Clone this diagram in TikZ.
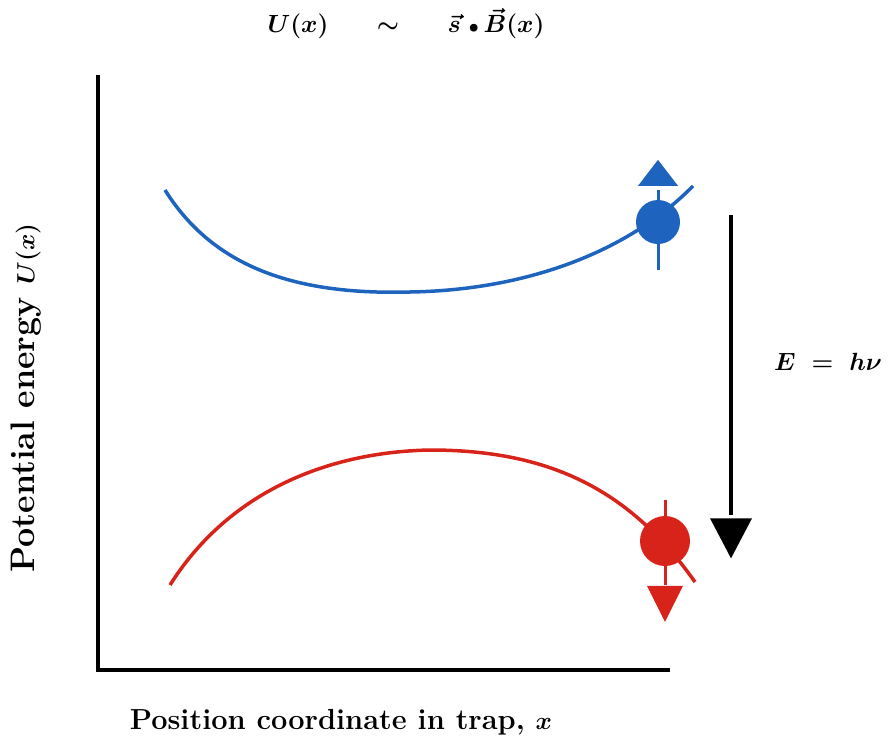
\documentclass[tikz,border=0pt]{standalone}
\usepackage{amsmath}
\usetikzlibrary{shapes.geometric}
\definecolor{cblue}{RGB}{30,100,190}
\definecolor{cred}{RGB}{215,35,25}
\begin{document}
\begin{tikzpicture}[x=1pt,y=-1pt,
  axis/.style={line width=4.5pt,line cap=rect},
  curve/.style={line width=3.5pt},
  tri/.style={isosceles triangle,isosceles triangle stretches,inner sep=0pt},
  lbl/.style={inner sep=0pt,font=\fontsize{29}{34}\selectfont\bfseries}]
\useasboundingbox (0,0) rectangle (888,755);
% axes
\coordinate (O) at (98,670);
\coordinate (ytop) at (98,77);
\coordinate (xend) at (668,670);
\draw[axis] (ytop) -- (O) -- (xend);
% blue curve
\coordinate (b0) at (165,190);
\coordinate (b1) at (693,186);
\draw[curve,cblue] (b0) .. controls (215,270) and (300,295) .. (410,292)
  .. controls (530,290) and (630,250) .. (b1);
\node[circle,fill=cblue,minimum size=44pt,inner sep=0pt] (bc) at (658,222) {};
\coordinate (bbot) at (658,270);
\draw[cblue,line width=3pt] (bbot) -- (bc.center) -- (658,190);
\node[tri,fill=cblue,shape border rotate=90,minimum width=40pt,minimum height=26pt] (btri) at (658,176) {};
% red curve
\coordinate (r0) at (170,585);
\coordinate (r1) at (695,582);
\draw[curve,cred] (r0) .. controls (230,490) and (330,452) .. (430,450)
  .. controls (550,450) and (630,490) .. (r1);
\node[circle,fill=cred,minimum size=50pt,inner sep=0pt] (rc) at (665,541) {};
\coordinate (rtop) at (665,500);
\draw[cred,line width=3pt] (rtop) -- (rc.center) -- (665,585);
\node[tri,fill=cred,shape border rotate=-90,minimum width=36pt,minimum height=36pt] (rtri) at (665,597) {};
% energy arrow
\coordinate (etop) at (731,215);
\coordinate (ebot) at (731,515);
\draw[line width=3.5pt] (etop) -- (ebot);
\node[tri,fill=black,shape border rotate=-90,minimum width=42pt,minimum height=40pt] (etri) at (731,531) {};
% labels
\node[anchor=west,inner sep=0pt,font=\fontsize{27}{32}\selectfont] (E) at (774,362) {$\boldsymbol{E\;=\;h\nu}$};
\node[inner sep=0pt,font=\fontsize{27}{32}\selectfont] (title) at (406,24) {$\boldsymbol{U(x)\hspace{1.5em}\sim\hspace{1.5em}\vec{s}\;{\scriptstyle\bullet}\,\vec{B}(x)}$};
\node[lbl,font=\fontsize{34}{38}\selectfont\bfseries,rotate=90] (ylab) at (26,398) {Potential energy $\boldsymbol{U(x)}$};
\node[lbl] (xlab) at (341,722) {Position coordinate in trap, $\boldsymbol{x}$};
\end{tikzpicture}
\end{document}
